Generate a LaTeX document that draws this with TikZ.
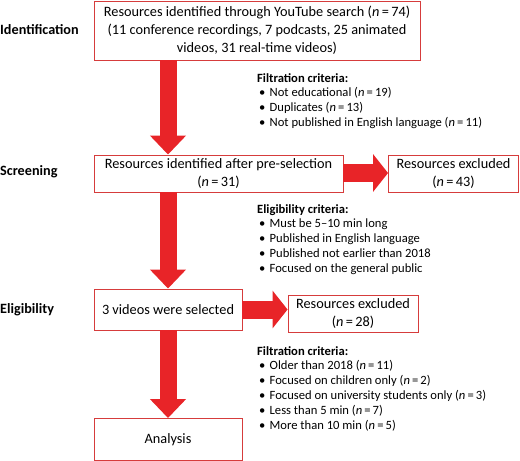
\documentclass[tikz,border=0pt]{standalone}
\usepackage{fontspec}
\setmainfont{Carlito}
\usetikzlibrary{arrows.meta,calc}
\definecolor{boxred}{RGB}{214,60,60}
\definecolor{arrred}{RGB}{232,36,40}
\tikzset{
  box/.style={draw=boxred, line width=0.9pt, fill=white, align=center, inner sep=0pt,
    font=\fontsize{14.3}{17.8}\selectfont},
  side/.style={anchor=west, font=\fontsize{14.2}{15}\selectfont\bfseries, inner sep=0pt},
  crit/.style={anchor=north west, align=left, inner sep=0pt, font=\fontsize{12.6}{14.9}\selectfont},
  varrow/.style={arrred, line width=17pt, -{Triangle[width=35pt,length=19pt]}},
  harrow/.style={arrred, line width=18pt, -{Triangle[width=37pt,length=15pt]}},
}
\newcommand{\bul}{\makebox[12.5pt][l]{\hspace{2pt}•}}
\begin{document}
\begin{tikzpicture}[x=1pt,y=-1pt]
\useasboundingbox (0,0) rectangle (520,461);
\node[box, minimum width=326pt, minimum height=59pt] (b1) at (257,30.5)
  {Resources identified through YouTube search (\textit{n}\,=\,74)\\(11 conference recordings, 7 podcasts, 25 animated\\videos, 31 real-time videos)};
\node[box, minimum width=249pt, minimum height=37pt] (b2) at (218.5,173.5)
  {Resources identified after pre-selection\\(\textit{n}\,=\,31)};
\node[box, minimum width=130pt, minimum height=37pt] (b3) at (453.5,173.5)
  {Resources excluded\\(\textit{n}\,=\,43)};
\node[box, minimum width=148pt, minimum height=41pt] (b4) at (168,309.5)
  {3 videos were selected};
\node[box, minimum width=130pt, minimum height=37pt] (b5) at (353,313.5)
  {Resources excluded\\(\textit{n}\,=\,28)};
\node[box, minimum width=148pt, minimum height=42pt] (b6) at (168,439.5)
  {Analysis};

\node[side] (l1) at (0,30) {Identification};
\node[side] (l2) at (0,172) {Screening};
\node[side] (l3) at (0,310) {Eligibility};

\draw[varrow] (b1.south -| b4.north) -- (b2.north -| b4.north);
\draw[varrow] (b2.south -| b4.north) -- (b4.north);
\draw[varrow] (b4.south) -- (b6.north);
\draw[harrow] (b2.east |- 0,173) -- (b3.west |- 0,173);
\draw[harrow] (b4.east) -- (b4.east -| b5.west);

\node[crit] (c1) at (257,73) {\textbf{Filtration criteria:}\\
\bul Not educational (\textit{n}\,=\,19)\\
\bul Duplicates (\textit{n}\,=\,13)\\
\bul Not published in English language (\textit{n}\,=\,11)};
\node[crit] (c2) at (257,204) {\textbf{Eligibility criteria:}\\
\bul Must be 5–10 min long\\
\bul Published in English language\\
\bul Published not earlier than 2018\\
\bul Focused on the general public};
\node[crit] (c3) at (257,346) {\textbf{Filtration criteria:}\\
\bul Older than 2018 (\textit{n}\,=\,11)\\
\bul Focused on children only (\textit{n}\,=\,2)\\
\bul Focused on university students only (\textit{n}\,=\,3)\\
\bul Less than 5 min (\textit{n}\,=\,7)\\
\bul More than 10 min (\textit{n}\,=\,5)};
\end{tikzpicture}
\end{document}
